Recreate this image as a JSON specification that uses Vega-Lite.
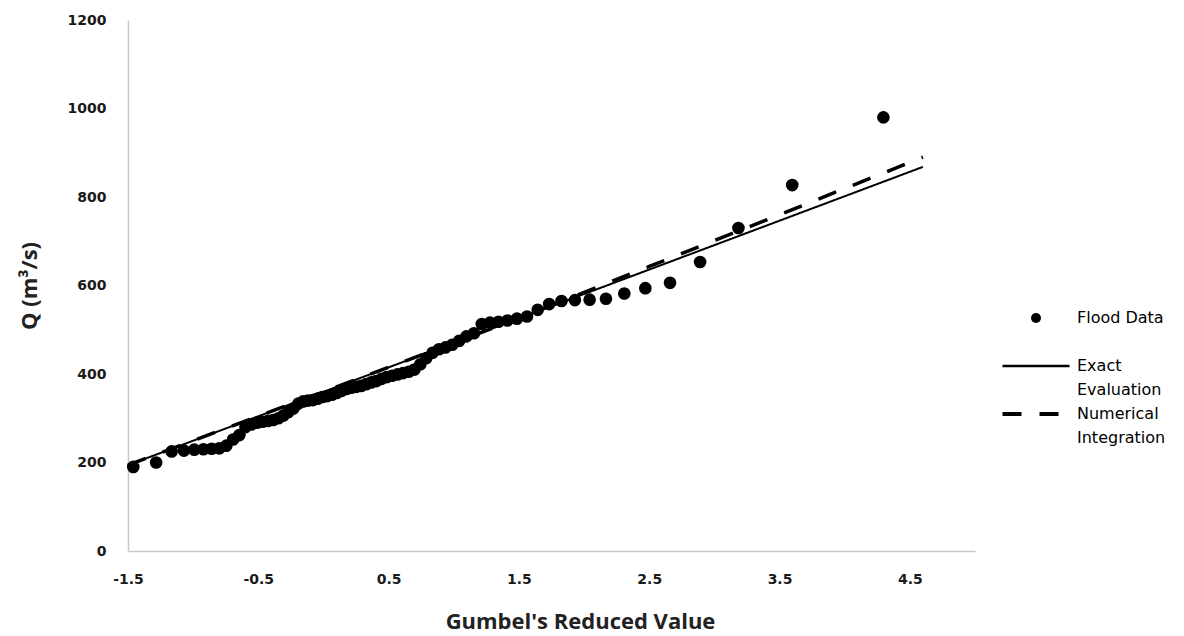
{
  "$schema": "https://vega.github.io/schema/vega-lite/v6.json",
  "width": 847,
  "height": 531,
  "autosize": {"type": "none"},
  "padding": {"left": 128, "top": 20, "right": 209, "bottom": 85},
  "background": "white",
  "config": {
    "view": {"stroke": null},
    "axis": {
      "grid": false,
      "ticks": false,
      "domainColor": "#C8C8C8",
      "domainWidth": 1.5,
      "labelFont": "DejaVu Sans",
      "labelFontWeight": "bold",
      "labelFontSize": 14,
      "labelColor": "#1a1a1a",
      "titleFont": "Open Sans",
      "titleFontWeight": "bold",
      "titleFontSize": 22,
      "titleColor": "#222222"
    }
  },
  "datasets": {
    "flood": [
      {"u": -1.4596, "Q": 190}, {"u": -1.2840, "Q": 200}, {"u": -1.1649, "Q": 225}, {"u": -1.0708, "Q": 227},
      {"u": -0.9913, "Q": 229}, {"u": -0.9212, "Q": 230}, {"u": -0.8579, "Q": 231}, {"u": -0.7996, "Q": 232},
      {"u": -0.7452, "Q": 238}, {"u": -0.6939, "Q": 252}, {"u": -0.6452, "Q": 262}, {"u": -0.5985, "Q": 280},
      {"u": -0.5535, "Q": 286}, {"u": -0.5098, "Q": 290}, {"u": -0.4675, "Q": 292}, {"u": -0.4262, "Q": 294},
      {"u": -0.3859, "Q": 296}, {"u": -0.3462, "Q": 300}, {"u": -0.3072, "Q": 306}, {"u": -0.2688, "Q": 314},
      {"u": -0.2307, "Q": 322}, {"u": -0.1931, "Q": 333}, {"u": -0.1558, "Q": 338}, {"u": -0.1187, "Q": 340},
      {"u": -0.0818, "Q": 341}, {"u": -0.0450, "Q": 344}, {"u": -0.0082, "Q": 348}, {"u": 0.0285, "Q": 350},
      {"u": 0.0653, "Q": 353}, {"u": 0.1021, "Q": 357}, {"u": 0.1391, "Q": 362}, {"u": 0.1764, "Q": 366},
      {"u": 0.2138, "Q": 369}, {"u": 0.2514, "Q": 371}, {"u": 0.2894, "Q": 373}, {"u": 0.3278, "Q": 377},
      {"u": 0.3665, "Q": 381}, {"u": 0.4057, "Q": 384}, {"u": 0.4455, "Q": 389}, {"u": 0.4858, "Q": 393},
      {"u": 0.5268, "Q": 396}, {"u": 0.5685, "Q": 399}, {"u": 0.6108, "Q": 402}, {"u": 0.6541, "Q": 405},
      {"u": 0.6983, "Q": 410}, {"u": 0.7436, "Q": 422}, {"u": 0.7899, "Q": 436}, {"u": 0.8373, "Q": 448},
      {"u": 0.8863, "Q": 456}, {"u": 0.9365, "Q": 460}, {"u": 0.9884, "Q": 466}, {"u": 1.0419, "Q": 475},
      {"u": 1.0972, "Q": 485}, {"u": 1.1549, "Q": 492}, {"u": 1.2151, "Q": 513}, {"u": 1.2776, "Q": 516},
      {"u": 1.3432, "Q": 518}, {"u": 1.4122, "Q": 521}, {"u": 1.4850, "Q": 525}, {"u": 1.5620, "Q": 530},
      {"u": 1.6440, "Q": 545}, {"u": 1.7321, "Q": 558}, {"u": 1.8269, "Q": 565}, {"u": 1.9297, "Q": 567},
      {"u": 2.0425, "Q": 568}, {"u": 2.1679, "Q": 570}, {"u": 2.3086, "Q": 582}, {"u": 2.4702, "Q": 594},
      {"u": 2.6596, "Q": 606}, {"u": 2.8904, "Q": 653}, {"u": 3.1846, "Q": 730}, {"u": 3.5973, "Q": 827},
      {"u": 4.2970, "Q": 980}
    ],
    "fits": [
      {"series": "Exact Evaluation", "u": -1.5, "Q": 194},
      {"series": "Exact Evaluation", "u": 4.6, "Q": 868},
      {"series": "Numerical Integration", "u": -1.5, "Q": 194},
      {"series": "Numerical Integration", "u": 0, "Q": 360},
      {"series": "Numerical Integration", "u": 1.5, "Q": 526},
      {"series": "Numerical Integration", "u": 2.5, "Q": 643},
      {"series": "Numerical Integration", "u": 3.5, "Q": 760},
      {"series": "Numerical Integration", "u": 4.6, "Q": 890}
    ]
  },
  "layer": [
    {
      "data": {"name": "flood"},
      "mark": {"type": "circle", "size": 160, "color": "black", "opacity": 1},
      "encoding": {
        "x": {
          "field": "u", "type": "quantitative",
          "scale": {"domain": [-1.5, 5], "nice": false, "zero": false},
          "axis": {
            "values": [-1.5, -0.5, 0.5, 1.5, 2.5, 3.5, 4.5],
            "labelExpr": "datum.value < 0 ? '-' + format(-datum.value, '.1f') : format(datum.value, '.1f')",
            "labelFlush": false,
            "labelPadding": 21,
            "title": "Gumbel's Reduced Value",
            "titleX": 452,
            "titlePadding": 25
          }
        },
        "y": {
          "field": "Q", "type": "quantitative",
          "scale": {"domain": [0, 1200], "nice": false},
          "axis": {
            "values": [0, 200, 400, 600, 800, 1000, 1200],
            "format": "d",
            "labelPadding": 22,
            "title": "Q (m³/s)",
            "titlePadding": 26
          }
        }
      }
    },
    {
      "data": {"name": "fits"},
      "mark": {"type": "line", "color": "black"},
      "encoding": {
        "x": {"field": "u", "type": "quantitative"},
        "y": {"field": "Q", "type": "quantitative"},
        "strokeWidth": {
          "field": "series", "type": "nominal",
          "scale": {"type": "ordinal", "domain": ["Exact Evaluation", "Numerical Integration"], "range": [2, 3.5]},
          "legend": null
        },
        "strokeDash": {
          "field": "series", "type": "nominal",
          "scale": {"domain": ["Flood Data", "Exact Evaluation", "Numerical Integration"], "range": [[1, 0], [1, 0], [19, 18]]},
          "legend": {
            "title": null,
            "orient": "none",
            "legendX": 870,
            "legendY": 290,
            "direction": "vertical",
            "gridAlign": "all",
            "rowPadding": 8,
            "symbolSize": 100,
            "symbolOffset": 30,
            "labelOffset": 33,
            "labelFont": "DejaVu Sans",
            "labelFontSize": 16,
            "labelColor": "black",
            "labelBaseline": "middle",
            "labelLimit": 300,
            "labelExpr": "datum.label === 'Flood Data' ? datum.label : split(datum.label, ' ')",
            "encoding": {
              "symbols": {
                "shape": {"value": {"expr": "datum.value === 'Flood Data' ? 'circle' : 'M-6.7,0H6.7'"}},
                "fill": {"value": {"expr": "datum.value === 'Flood Data' ? 'black' : 'transparent'"}},
                "stroke": {"value": "black"},
                "strokeWidth": {"value": {"expr": "datum.value === 'Flood Data' ? 0 : datum.value === 'Numerical Integration' ? 4 : 2.5"}},
                "strokeDash": {"value": {"expr": "datum.value === 'Numerical Integration' ? [23, 20] : [1, 0]"}},
                "opacity": {"value": 1}
              },
              "labels": {
                "lineHeight": {"value": 24}
              }
            }
          }
        }
      }
    }
  ]
}
